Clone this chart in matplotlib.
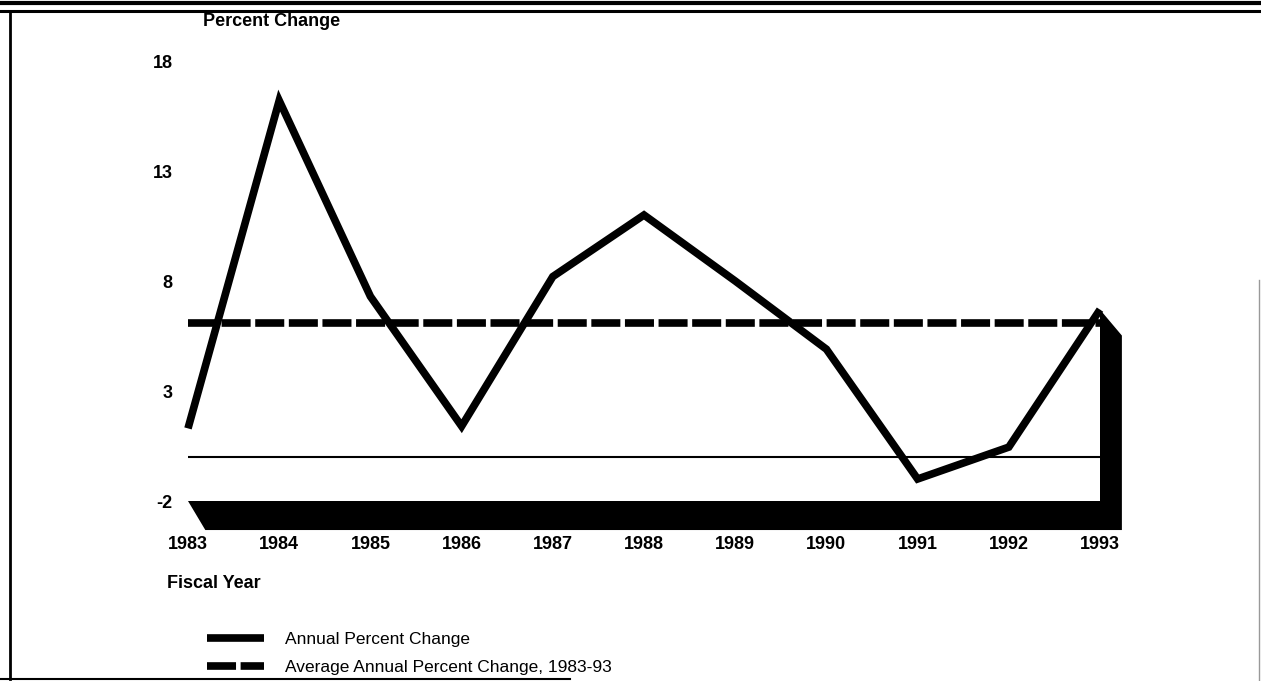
import matplotlib
matplotlib.use("Agg")
import matplotlib.pyplot as plt
from matplotlib.lines import Line2D

plt.rcParams['font.family'] = ['Liberation Sans', 'DejaVu Sans']

# data
years = [1983, 1984, 1985, 1986, 1987, 1988, 1989, 1990, 1991, 1992, 1993]
pct_change = [1.3, 16.2, 7.3, 1.4, 8.2, 11.0, 8.0, 4.9, -1.0, 0.45, 6.7]
avg_change = 6.1
y_ticks = [-2, 3, 8, 13, 18]

W, H = 1261, 681


def fx(px):
    return px / W


def fy(py):
    return 1 - py / H


fig = plt.figure(figsize=(W / 100, H / 100), dpi=100)
ax = fig.add_axes([fx(188), fy(501), fx(1100) - fx(188), fy(61) - fy(501)])
ax.set_xlim(years[0], years[-1])
ax.set_ylim(y_ticks[0], y_ticks[-1])
for s in ax.spines.values():
    s.set_visible(False)

# black "3D" floor and right wall
depth_x, depth_y = 0.24, 1.32
slant_x = 0.19
floor = y_ticks[0]
xs = [years[0], years[-1], years[-1], years[-1] + depth_x,
      years[-1] + depth_x, years[0] + slant_x]
ys = [floor, floor, pct_change[-1], pct_change[-1] - 1.18,
      floor - depth_y, floor - depth_y]
ax.fill(xs, ys, color='black', lw=0, clip_on=False, zorder=2)

# zero line
ax.plot([years[0], years[-1]], [0, 0], color='black', lw=1.5, zorder=3)

# average
ax.plot([years[0], years[-1]], [avg_change, avg_change], color='black', lw=5.5,
        ls=(0, (3.8, 0.6)), dash_capstyle='butt', zorder=4, clip_on=False,
        label='Average Annual Percent Change, 1983-93')

# annual change
ax.plot(years, pct_change, color='black', lw=5.5, solid_joinstyle='miter',
        solid_capstyle='butt', zorder=5, clip_on=False,
        label='Annual Percent Change')

ax.set_xticks(years)
ax.set_xticklabels([str(y) for y in years], fontsize=13, fontweight='bold')
ax.set_yticks(y_ticks)
ax.set_yticklabels([str(t) for t in y_ticks], fontsize=13, fontweight='bold')
ax.tick_params(axis='x', length=0, pad=25)
ax.tick_params(axis='y', length=0, pad=11)

fig.text(fx(203), fy(21), 'Percent Change', fontsize=13, fontweight='bold',
         ha='left', va='center')
fig.text(fx(167), fy(583), 'Fiscal Year', fontsize=13, fontweight='bold',
         ha='left', va='center')

h, l = ax.get_legend_handles_labels()
leg = fig.legend(h[::-1], l[::-1], loc='upper left',
                 bbox_to_anchor=(fx(207), fy(632)), frameon=False,
                 fontsize=12.5, handlelength=3.3, handletextpad=1.2,
                 labelspacing=0.74, borderpad=0, borderaxespad=0)

# page frame from the scan
fig.add_artist(Line2D([0, 1], [fy(3), fy(3)], color='black', lw=3))
fig.add_artist(Line2D([0, 1], [fy(11), fy(11)], color='black', lw=2.2))
fig.add_artist(Line2D([fx(10), fx(10)], [fy(11), fy(679)], color='black', lw=2))
fig.add_artist(Line2D([0, fx(570)], [fy(679), fy(679)], color='black', lw=1.5))
fig.add_artist(Line2D([fx(1259), fx(1259)], [fy(280), fy(681)], color='#999999', lw=1))

fig.savefig('out.png', dpi=100)
